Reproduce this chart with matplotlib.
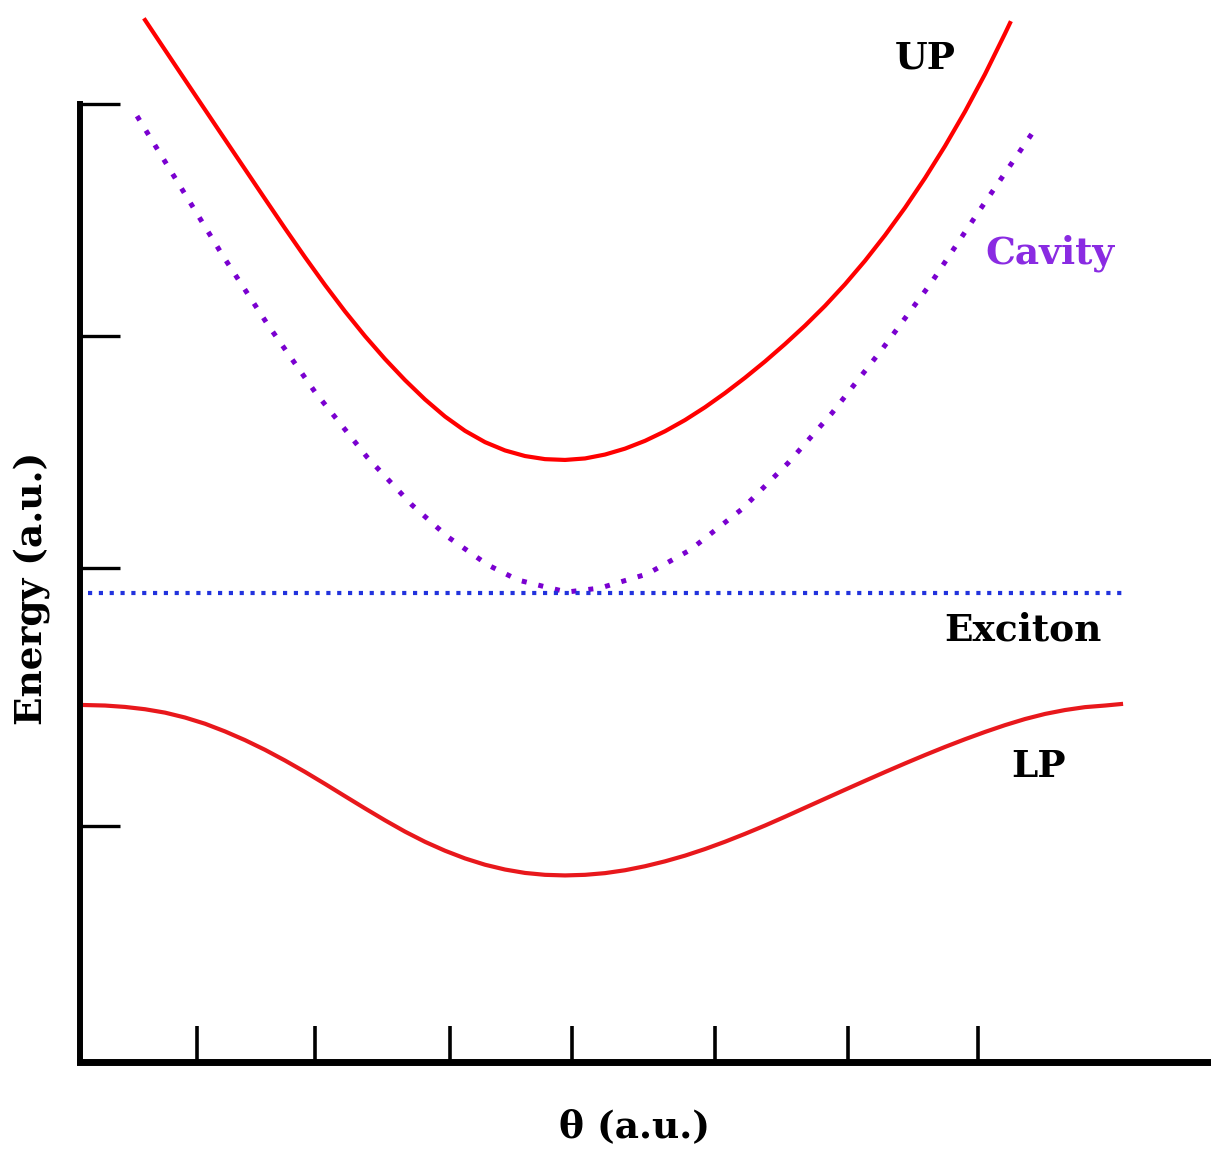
import numpy as np
import matplotlib.pyplot as plt

# 讀圖得到的曲線點 (a.u.)
up_x = [0.65, 0.85, 1.05, 1.25, 1.45, 1.65, 1.85, 2.05, 2.25, 2.45, 2.65,
        2.85, 3.05, 3.25, 3.45, 3.65, 3.85, 4.05, 4.25, 4.45, 4.65, 4.85,
        5.05, 5.25, 5.45, 5.65, 5.85, 6.05, 6.25, 6.45, 6.65, 6.85, 7.05,
        7.25, 7.45, 7.65, 7.85, 8.05, 8.25, 8.45, 8.65, 8.85, 9.05, 9.25, 9.30]
up_y = [10.420, 10.120, 9.821, 9.523, 9.225, 8.928, 8.631, 8.336, 8.048,
        7.770, 7.506, 7.259, 7.030, 6.819, 6.626, 6.455, 6.312, 6.199, 6.116,
        6.060, 6.029, 6.021, 6.036, 6.075, 6.134, 6.212, 6.308, 6.420, 6.548,
        6.690, 6.843, 7.006, 7.180, 7.364, 7.562, 7.778, 8.013, 8.268, 8.543,
        8.840, 9.160, 9.505, 9.879, 10.285, 10.390]

cav_x = [0.57, 1.00, 1.43, 1.88, 2.35, 2.87, 3.32, 3.68, 4.08, 4.38, 4.70,
         4.87, 5.20, 5.67, 6.10, 6.62, 7.08, 7.52, 8.03, 8.51, 8.97, 9.53]
cav_y = [9.46, 8.76, 8.06, 7.37, 6.70, 6.05, 5.57, 5.25, 4.97, 4.82, 4.74,
         4.70, 4.74, 4.88, 5.12, 5.53, 5.99, 6.49, 7.14, 7.79, 8.48, 9.30]

exc_x = [0.08, 10.42]
exc_y = [4.69, 4.69]

lp_x = [0.05, 0.25, 0.45, 0.65, 0.85, 1.05, 1.25, 1.45, 1.65, 1.85, 2.05,
        2.25, 2.45, 2.65, 2.85, 3.05, 3.25, 3.45, 3.65, 3.85, 4.05, 4.25,
        4.45, 4.65, 4.85, 5.05, 5.25, 5.45, 5.65, 5.85, 6.05, 6.25, 6.45,
        6.65, 6.85, 7.05, 7.25, 7.45, 7.65, 7.85, 8.05, 8.25, 8.45, 8.65,
        8.85, 9.05, 9.25, 9.45, 9.65, 9.85, 10.05, 10.25, 10.41]
lp_y = [3.570, 3.565, 3.551, 3.528, 3.494, 3.445, 3.383, 3.306, 3.219, 3.122,
        3.015, 2.901, 2.781, 2.658, 2.536, 2.417, 2.304, 2.202, 2.113, 2.036,
        1.973, 1.925, 1.891, 1.872, 1.866, 1.872, 1.889, 1.918, 1.958, 2.007,
        2.064, 2.130, 2.203, 2.282, 2.365, 2.453, 2.543, 2.633, 2.723, 2.812,
        2.900, 2.986, 3.070, 3.151, 3.228, 3.301, 3.369, 3.430, 3.481, 3.520,
        3.549, 3.565, 3.580]

x_ticks = [1.17, 2.35, 3.70, 4.92, 6.35, 7.68, 8.98]
y_ticks = [2.36, 4.94, 7.26, 9.58]

labels = ["UP", "Cavity", "Exciton", "LP"]
label_pos = [(8.45, 10.04), (9.70, 8.09), (9.43, 4.32), (9.58, 2.96)]
label_col = ["black", "#8a2be2", "black", "black"]

fig = plt.figure(figsize=(12.11, 11.51), dpi=100)
ax = fig.add_axes([0.0661, 0.0773, 0.9339, 0.8323])

ax.plot(up_x, up_y, color="#ff0000", lw=3.0, clip_on=False, solid_joinstyle="round")
ax.plot(cav_x, cav_y, color="#7a00d0", lw=3.6, linestyle=(0, (1, 2.4)), clip_on=False)
ax.plot(exc_x, exc_y, color="#2233dd", lw=3.0, linestyle=(0, (1, 1.6)), clip_on=False)
ax.plot(lp_x, lp_y, color="#e8181c", lw=3.0, clip_on=False, solid_joinstyle="round")

for t, (tx, ty), c in zip(labels, label_pos, label_col):
    ax.text(tx, ty, t, color=c, fontsize=27, fontweight="bold",
            family="DejaVu Serif", ha="center", va="center")

ax.set_xlim(0, 11.31)
ax.set_ylim(0, 9.58)
ax.set_xticks(x_ticks)
ax.set_yticks(y_ticks)
ax.set_xticklabels([])
ax.set_yticklabels([])
ax.tick_params(axis="x", direction="in", length=26, width=2.6, color="black")
ax.tick_params(axis="y", direction="in", length=29, width=2.4, color="black")

for s in ["top", "right"]:
    ax.spines[s].set_visible(False)
ax.spines["left"].set_linewidth(4.3)
ax.spines["bottom"].set_linewidth(5.0)

fig.text(33 / 1211, 1 - 588 / 1151, "Energy (a.u.)", rotation=90, fontsize=27,
         fontweight="bold", family="DejaVu Serif", ha="center", va="center")
fig.text(635 / 1211, 1 - 1127 / 1151, "θ (a.u.)", fontsize=27,
         fontweight="bold", family="DejaVu Serif", ha="center", va="center")

plt.savefig("out.png", dpi=100)
